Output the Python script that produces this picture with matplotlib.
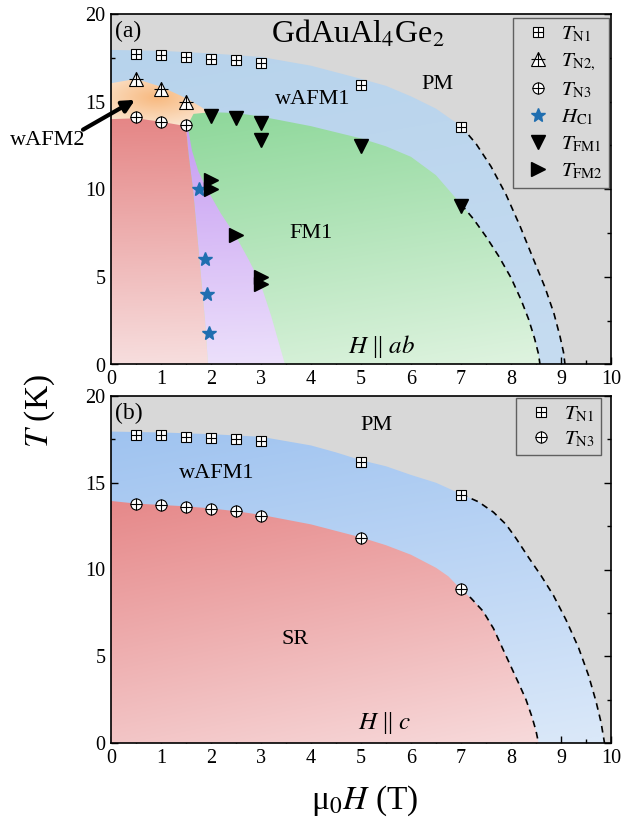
import numpy as np
import matplotlib
matplotlib.use("Agg")
import matplotlib.pyplot as plt
from matplotlib.patches import Polygon
from matplotlib.colors import to_rgb
from matplotlib.lines import Line2D

plt.rcParams["font.family"] = "Liberation Serif"
plt.rcParams["mathtext.fontset"] = "stix"

# ---------------- measured points, H || ab ----------------
a_n1_x = [0.5, 1, 1.5, 2, 2.5, 3, 5, 7]
a_n1_y = [17.7, 17.65, 17.55, 17.45, 17.35, 17.2, 15.95, 13.55]
a_n2_x = [0.5, 1, 1.5]
a_n2_y = [16.3, 15.7, 15.0]
a_n3_x = [0.5, 1, 1.5]
a_n3_y = [14.15, 13.85, 13.65]
a_hc1_x = [1.75, 1.87, 1.91, 1.96]
a_hc1_y = [10.0, 6.0, 4.0, 1.8]
a_fm1_x = [2, 2.5, 3, 3, 5, 7]
a_fm1_y = [14.2, 14.05, 13.8, 12.8, 12.45, 9.05]
a_fm2_x = [2, 2, 2.5, 3, 3]
a_fm2_y = [10.5, 10.0, 7.4, 5.0, 4.6]

# ---------------- measured points, H || c ----------------
b_n1_x = [0.5, 1, 1.5, 2, 2.5, 3, 5, 7]
b_n1_y = [17.75, 17.75, 17.65, 17.6, 17.55, 17.4, 16.2, 14.3]
b_n3_x = [0.5, 1, 1.5, 2, 2.5, 3, 5, 7]
b_n3_y = [13.75, 13.7, 13.62, 13.5, 13.35, 13.1, 11.8, 8.85]

# ---------------- phase boundaries, H || ab ----------------
a_pm_x = [0, 1, 2, 3, 4, 5, 5.5, 6, 6.5, 7]
a_pm_y = [17.95, 17.9, 17.75, 17.55, 17.05, 16.3, 15.9, 15.3, 14.6, 13.6]
a_pm_tail_x = [7, 7.3, 7.6, 7.9, 8.18, 8.45, 8.68, 8.86, 8.98, 9.05, 9.08]
a_pm_tail_y = [13.6, 12.6, 11.3, 9.7, 7.9, 6.0, 4.4, 2.9, 1.6, 0.7, 0]
a_w2_x = [0, 0.5, 1, 1.5, 1.8, 1.95]
a_w2_y = [16.05, 16.3, 15.85, 15.2, 14.7, 14.4]
a_fm1_top_x = [1.53, 1.65, 2, 2.5, 3, 4, 5, 5.5, 6, 6.5, 7]
a_fm1_top_y = [13.65, 14.3, 14.4, 14.35, 14.15, 13.6, 12.9, 12.45, 11.85, 10.8, 9.15]
a_fm1_tail_x = [7, 7.25, 7.5, 7.75, 8.0, 8.2, 8.35, 8.47, 8.55, 8.58]
a_fm1_tail_y = [9.15, 8.3, 7.3, 6.2, 4.95, 3.7, 2.6, 1.5, 0.6, 0]
a_fm2_edge_x = [1.53, 1.62, 1.75, 1.92, 2.2, 2.48, 2.75, 2.98, 3.2, 3.48]
a_fm2_edge_y = [13.65, 12.2, 11.0, 10.0, 8.6, 7.4, 6.0, 4.7, 2.8, 0]
a_sr_top_x = [0, 0.5, 1, 1.5]
a_sr_top_y = [14.0, 14.05, 13.85, 13.6]
a_sr_edge_x = [1.5, 1.55, 1.64, 1.72, 1.8, 1.88, 1.94]
a_sr_edge_y = [13.6, 12.0, 10.0, 7.5, 5.0, 2.5, 0]

# ---------------- phase boundaries, H || c ----------------
b_pm_x = [0, 1, 2, 3, 4, 4.5, 5, 5.5, 6, 6.5, 7]
b_pm_y = [17.95, 17.9, 17.8, 17.65, 17.15, 16.75, 16.3, 15.95, 15.45, 15.0, 14.35]
b_pm_tail_x = [7, 7.35, 7.65, 7.9, 8.1, 8.35, 8.6, 8.85, 9.1, 9.35, 9.55, 9.7, 9.8, 9.87]
b_pm_tail_y = [14.35, 13.9, 13.3, 12.6, 11.8, 10.7, 9.65, 8.5, 7.1, 5.5, 3.9, 2.4, 1.2, 0]
b_sr_x = [0, 0.5, 1, 1.5, 2, 2.5, 3, 4, 5, 5.5, 6, 6.5, 6.75, 7]
b_sr_y = [13.95, 13.8, 13.72, 13.64, 13.52, 13.36, 13.15, 12.6, 11.85, 11.4, 10.85, 10.1, 9.6, 8.85]
b_sr_tail_x = [7, 7.2, 7.44, 7.65, 7.84, 8.0, 8.16, 8.3, 8.42, 8.5, 8.55]
b_sr_tail_y = [8.85, 8.35, 7.6, 6.6, 5.4, 4.4, 3.4, 2.5, 1.5, 0.7, 0]


def shade(ax, xs, ys, c0, c1, p0, p1, z, radial=False):
    """Fill polygon (xs, ys) with a colour ramp from c0 to c1."""
    poly = Polygon(np.column_stack([xs, ys]), closed=True, fc="none", ec="none")
    ax.add_patch(poly)
    gx, gy = np.meshgrid(np.linspace(0, 10, 400), np.linspace(0, 20, 400))
    if radial:
        t = np.hypot((gx - p0[0]) / p1[0], (gy - p0[1]) / p1[1])
    else:
        d = np.subtract(p1, p0)
        t = ((gx - p0[0]) * d[0] + (gy - p0[1]) * d[1]) / (d @ d)
    t = np.clip(t, 0, 1)[..., None]
    rgb = (1 - t) * np.array(to_rgb(c0)) + t * np.array(to_rgb(c1))
    im = ax.imshow(rgb, extent=(0, 10, 0, 20), origin="lower", aspect="auto",
                   interpolation="bilinear", zorder=z)
    im.set_clip_path(poly)


def plus_marker(ax, x, y, m, ms):
    ax.plot(x, y, m, ms=ms, mfc="white", mec="k", mew=0.8, zorder=10)
    ax.plot(x, y, "+", ms=ms, mec="k", mew=0.8, zorder=11)


fig = plt.figure(figsize=(6.24, 8.22), dpi=100)
ax_a = fig.add_axes([111 / 624, 1 - 364.5 / 822, 500 / 624, 350.5 / 822])
ax_b = fig.add_axes([111 / 624, 1 - 743 / 822, 500 / 624, 347 / 822])

gray = "#d8d8d8"
lab = 16
dash = (0, (4, 3))

# ------------------------------
# (a) H || ab
ax = ax_a
ax.set_facecolor(gray)

shade(ax, [0] + a_pm_x + a_pm_tail_x[1:] + [0], [0] + a_pm_y + a_pm_tail_y[1:] + [0],
      "#b7d3ec", "#c6dcf1", (0, 18), (9, 0), 1)
shade(ax, [0] + a_w2_x + [2.0, 2.0], [0] + a_w2_y + [14.0, 0],
      "#f8b97f", "#fbe3cc", (0.9, 15.2), (1.3, 1.6), 2, radial=True)
shade(ax, a_fm1_top_x + a_fm1_tail_x[1:] + [1.53], a_fm1_top_y + a_fm1_tail_y[1:] + [0],
      "#8fd89b", "#def3df", (1.5, 14), (8, 0), 3)
shade(ax, a_fm2_edge_x + a_sr_edge_x[::-1], a_fm2_edge_y + a_sr_edge_y[::-1],
      "#c69cf2", "#ece0fb", (1.6, 13.5), (2.6, 0), 4)
shade(ax, [0] + a_sr_top_x + a_sr_edge_x[1:], [0] + a_sr_top_y + a_sr_edge_y[1:],
      "#e58686", "#f7dede", (0.5, 14), (1.2, 0), 5)

ax.plot(a_pm_tail_x, a_pm_tail_y, "k", ls=dash, lw=1.2, zorder=6)
ax.plot(a_fm1_tail_x, a_fm1_tail_y, "k", ls=dash, lw=1.2, zorder=6)

plus_marker(ax, a_n1_x, a_n1_y, "s", 7)
plus_marker(ax, a_n2_x, a_n2_y, "^", 9.5)
plus_marker(ax, a_n3_x, a_n3_y, "o", 8)
ax.plot(a_hc1_x, a_hc1_y, "*", ms=10, color="#1f6eb0", mec="#1f6eb0", zorder=12)
ax.plot(a_fm1_x, a_fm1_y, "v", ms=9.5, color="k", zorder=12)
ax.plot(a_fm2_x, a_fm2_y, ">", ms=9.5, color="k", zorder=12)

ax.text(0.35, 19.0, "(a)", fontsize=17, ha="center", va="center")
ax.text(4.93, 18.85, r"GdAuAl$_4$Ge$_2$", fontsize=23, ha="center", va="center")
ax.text(6.53, 16.0, "PM", fontsize=lab, ha="center", va="center")
ax.text(4.03, 15.1, "wAFM1", fontsize=lab, ha="center", va="center")
ax.text(4.0, 7.5, "FM1", fontsize=lab, ha="center", va="center")
ax.text(0.48, 4.5, "SR", fontsize=lab, ha="center", va="center")
ax.text(2.44, 2.55, "FM2", fontsize=lab, ha="center", va="center")
ax.text(5.42, 1.0, r"$H$ || $ab$", fontsize=18, ha="center", va="center")

ax.annotate("", xy=(0.48, 15.1), xytext=(-0.56, 13.4), annotation_clip=False,
            arrowprops=dict(arrowstyle="-|>", lw=3, color="k", mutation_scale=18,
                            shrinkA=0, shrinkB=0))
ax.text(-1.27, 12.77, "wAFM2", fontsize=lab, ha="center", va="center", clip_on=False)

h_n1 = (Line2D([], [], ls="", marker="s", ms=7, mfc="white", mec="k", mew=0.8),
        Line2D([], [], ls="", marker="+", ms=7, mec="k", mew=0.8))
h_n2 = (Line2D([], [], ls="", marker="^", ms=9.5, mfc="white", mec="k", mew=0.8),
        Line2D([], [], ls="", marker="+", ms=9.5, mec="k", mew=0.8))
h_n3 = (Line2D([], [], ls="", marker="o", ms=8, mfc="white", mec="k", mew=0.8),
        Line2D([], [], ls="", marker="+", ms=8, mec="k", mew=0.8))
h_hc1 = Line2D([], [], ls="", marker="*", ms=10, color="#1f6eb0")
h_fm1 = Line2D([], [], ls="", marker="v", ms=9.5, color="k")
h_fm2 = Line2D([], [], ls="", marker=">", ms=9.5, color="k")

leg_kw = dict(loc="upper right", fontsize=15, handlelength=1.8, handletextpad=0.2,
              borderpad=0.3, borderaxespad=0, fancybox=False, framealpha=1,
              facecolor=gray, edgecolor="#606060", bbox_transform=fig.transFigure)

leg = ax.legend([h_n1, h_n2, h_n3, h_hc1, h_fm1, h_fm2],
                [r"$T_{\rm N1}$", r"$T_{\rm N2,}$", r"$T_{\rm N3}$", r"$H_{\rm C1}$",
                 r"$T_{\rm FM1}$", r"$T_{\rm FM2}$"],
                bbox_to_anchor=(609 / 624, 1 - 18 / 822), labelspacing=0.36, **leg_kw)
leg.get_frame().set_linewidth(1.0)
leg.set_zorder(20)

# ------------------------------
# (b) H || c
ax = ax_b
ax.set_facecolor(gray)

shade(ax, [0] + b_pm_x + b_pm_tail_x[1:] + [0], [0] + b_pm_y + b_pm_tail_y[1:] + [0],
      "#9fc3f0", "#dae8f9", (0, 18), (9, 0), 1)
shade(ax, [0] + b_sr_x + b_sr_tail_x[1:] + [0], [0] + b_sr_y + b_sr_tail_y[1:] + [0],
      "#e68889", "#f7d9da", (0, 14), (8, 0), 2)

ax.plot(b_pm_tail_x, b_pm_tail_y, "k", ls=dash, lw=1.2, zorder=6)
ax.plot(b_sr_tail_x, b_sr_tail_y, "k", ls=dash, lw=1.2, zorder=6)

plus_marker(ax, b_n1_x, b_n1_y, "s", 7)
plus_marker(ax, b_n3_x, b_n3_y, "o", 8)

ax.text(0.35, 19.0, "(b)", fontsize=17, ha="center", va="center")
ax.text(5.3, 18.3, "PM", fontsize=lab, ha="center", va="center")
ax.text(2.11, 15.55, "wAFM1", fontsize=lab, ha="center", va="center")
ax.text(3.69, 5.95, "SR", fontsize=lab, ha="center", va="center")
ax.text(5.48, 1.15, r"$H$ || $c$", fontsize=18, ha="center", va="center")

leg = ax.legend([h_n1, h_n3], [r"$T_{\rm N1}$", r"$T_{\rm N3}$"],
                bbox_to_anchor=(601 / 624, 1 - 398 / 822), labelspacing=0.25, **leg_kw)
leg.get_frame().set_linewidth(1.0)
leg.set_zorder(20)

# ------------------------------
# Aesthetics
for ax in (ax_a, ax_b):
    ax.set_xlim(0, 10)
    ax.set_ylim(0, 20)
    ax.set_xticks(np.arange(0, 11, 1))
    ax.set_xticks(np.arange(0.5, 10, 1), minor=True)
    ax.set_yticks([0, 5, 10, 15, 20])
    ax.set_yticks([2.5, 7.5, 12.5, 17.5], minor=True)
    ax.tick_params(which="both", direction="in", right=True, labelsize=14.5, pad=4)
    ax.tick_params(which="major", length=5, width=1)
    ax.tick_params(which="minor", length=3, width=1)
    for s in ax.spines.values():
        s.set_linewidth(1.2)
        s.set_zorder(30)

fig.text(40 / 624, 0.5, r"$T$ (K)", fontsize=24, rotation=90, ha="center", va="center")
fig.text(365 / 624, 1 - 801 / 822, r"μ$_0$$H$ (T)", fontsize=24, ha="center", va="center")

fig.savefig("out.png", dpi=100)
